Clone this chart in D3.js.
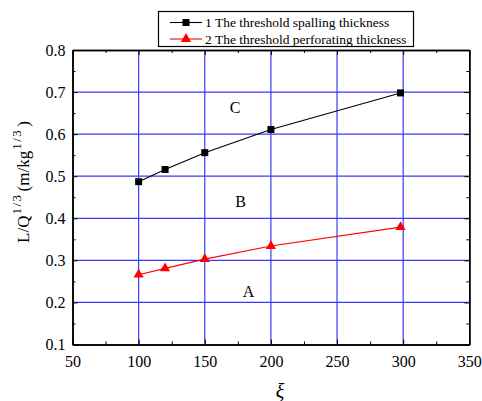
<!DOCTYPE html>
<html><head><meta charset="utf-8">
<script src="https://cdn.jsdelivr.net/npm/d3@7"></script>
<style>body{margin:0;background:#fff}svg{display:block}</style>
</head><body><svg id="c" width="482" height="401"></svg>
<script>
const xiValues = [100, 120, 150, 200, 298];
const spallingThickness = [0.487, 0.516, 0.556, 0.611, 0.698];
const perforatingThickness = [0.266, 0.281, 0.303, 0.334, 0.379];
const seriesNames = ["1 The threshold spalling thickness", "2 The threshold perforating thickness"];
const xTicks = [50, 100, 150, 200, 250, 300, 350];
const yTicks = [0.1, 0.2, 0.3, 0.4, 0.5, 0.6, 0.7, 0.8];
const regionLabels = ["C", "B", "A"];
const regionX = [173, 177, 183];
const regionY = [0.664, 0.441, 0.227];

const FONT = "'Liberation Serif', 'Times New Roman', Times, serif";
const svg = d3.select("#c");
const L = 72.5, R = 469.3, T = 50, B = 344.5;
const x = d3.scaleLinear().domain([50, 350]).range([L, R]);
const y = d3.scaleLinear().domain([0.1, 0.8]).range([B, T]);
const grid = "#3a3aff";

// grid
svg.append("g").selectAll("line").data(xTicks.slice(1, -1)).join("line")
  .attr("x1", d => x(d)).attr("x2", d => x(d)).attr("y1", T).attr("y2", B)
  .attr("stroke", grid).attr("stroke-width", 1.2);
svg.append("g").selectAll("line").data(yTicks.slice(1, -1)).join("line")
  .attr("y1", d => y(d)).attr("y2", d => y(d)).attr("x1", L).attr("x2", R)
  .attr("stroke", grid).attr("stroke-width", 1.2);

// axes with inward ticks
const minorX = d3.range(75, 350, 50);
const minorY = d3.range(0.15, 0.8, 0.1);
function axisG(axis, tr) {
  const g = svg.append("g").attr("transform", tr).call(axis);
  g.attr("font-family", FONT).attr("font-size", 16);
  g.select(".domain").attr("stroke", "#000").attr("stroke-width", 1.5);
  g.selectAll(".tick line").attr("stroke", "#000").attr("stroke-width", 1);
  g.selectAll("text").style("font-family", FONT).style("font-size", "16px").attr("fill", "#000");
  return g;
}
axisG(d3.axisBottom(x).tickValues(xTicks).tickSize(-5).tickPadding(11).tickSizeOuter(0).tickFormat(d3.format("d")), `translate(0,${B})`);
axisG(d3.axisBottom(x).tickValues(minorX).tickSize(-3).tickSizeOuter(0).tickFormat(""), `translate(0,${B})`);
axisG(d3.axisTop(x).tickValues(xTicks).tickSize(-5).tickSizeOuter(0).tickFormat(""), `translate(0,${T})`);
axisG(d3.axisTop(x).tickValues(minorX).tickSize(-3).tickSizeOuter(0).tickFormat(""), `translate(0,${T})`);
axisG(d3.axisLeft(y).tickValues(yTicks).tickSize(-5).tickPadding(7).tickSizeOuter(0).tickFormat(d3.format(".1f")), `translate(${L},0)`);
axisG(d3.axisLeft(y).tickValues(minorY).tickSize(-3).tickSizeOuter(0).tickFormat(""), `translate(${L},0)`);
axisG(d3.axisRight(y).tickValues(yTicks).tickSize(-5).tickSizeOuter(0).tickFormat(""), `translate(${R},0)`);
axisG(d3.axisRight(y).tickValues(minorY).tickSize(-3).tickSizeOuter(0).tickFormat(""), `translate(${R},0)`);

// series
const line = d3.line().x(d => x(d[0])).y(d => y(d[1]));
const s1 = xiValues.map((v, i) => [v, spallingThickness[i]]);
const s2 = xiValues.map((v, i) => [v, perforatingThickness[i]]);
svg.append("path").attr("d", line(s1)).attr("fill", "none").attr("stroke", "#000").attr("stroke-width", 1.1);
svg.append("path").attr("d", line(s2)).attr("fill", "none").attr("stroke", "#ff0000").attr("stroke-width", 1.1);
const sq = d3.symbol().type(d3.symbolSquare).size(49);
const tri = d3.symbol().type(d3.symbolTriangle).size(45);
svg.append("g").selectAll("path").data(s1).join("path")
  .attr("d", sq).attr("transform", d => `translate(${x(d[0])},${y(d[1])})`).attr("fill", "#000");
svg.append("g").selectAll("path").data(s2).join("path")
  .attr("d", tri).attr("transform", d => `translate(${x(d[0])},${y(d[1])})`).attr("fill", "#ff0000");

// region labels
svg.append("g").selectAll("text").data(regionLabels).join("text")
  .attr("x", (d, i) => x(regionX[i])).attr("y", (d, i) => y(regionY[i])).attr("dy", "0.35em")
  .attr("text-anchor", "middle").style("font-family", FONT).style("font-size", "16px").text(d => d);

// axis titles
svg.append("text").attr("x", 280).attr("y", 398).attr("text-anchor", "middle")
  .style("font-family", FONT).style("font-size", "20px").style("font-style", "italic").text("ξ");
const yt = svg.append("text").attr("transform", "translate(29,182) rotate(-90)").attr("text-anchor", "middle")
  .style("font-family", FONT).style("font-size", "17px");
yt.append("tspan").text("L/Q");
yt.append("tspan").attr("dx", 1).attr("dy", "-8").style("font-size", "13px").style("letter-spacing", "1.5px").text("1/3");
yt.append("tspan").attr("dx", 2).attr("dy", "8").text("(m/kg");
yt.append("tspan").attr("dx", 1).attr("dy", "-8").style("font-size", "13px").style("letter-spacing", "1.5px").text("1/3");
yt.append("tspan").attr("dx", 2).attr("dy", "8").text(")");

// legend
const lg = svg.append("g");
lg.append("rect").attr("x", 158.5).attr("y", 11.5).attr("width", 255).attr("height", 35)
  .attr("fill", "#fff").attr("stroke", "#000").attr("stroke-width", 1.2);
const legColors = ["#000", "#ff0000"];
const legSyms = [sq, tri];
seriesNames.forEach((n, i) => {
  const yy = 22.5 + i * 16.5;
  lg.append("line").attr("x1", 170).attr("x2", 202).attr("y1", yy).attr("y2", yy).attr("stroke", legColors[i]).attr("stroke-width", 1.1);
  lg.append("path").attr("d", legSyms[i]).attr("transform", `translate(186,${yy})`).attr("fill", legColors[i]);
  lg.append("text").attr("x", 205).attr("y", yy).attr("dy", "0.35em").style("font-family", FONT).style("font-size", "13.5px").text(n);
});
</script></body></html>
